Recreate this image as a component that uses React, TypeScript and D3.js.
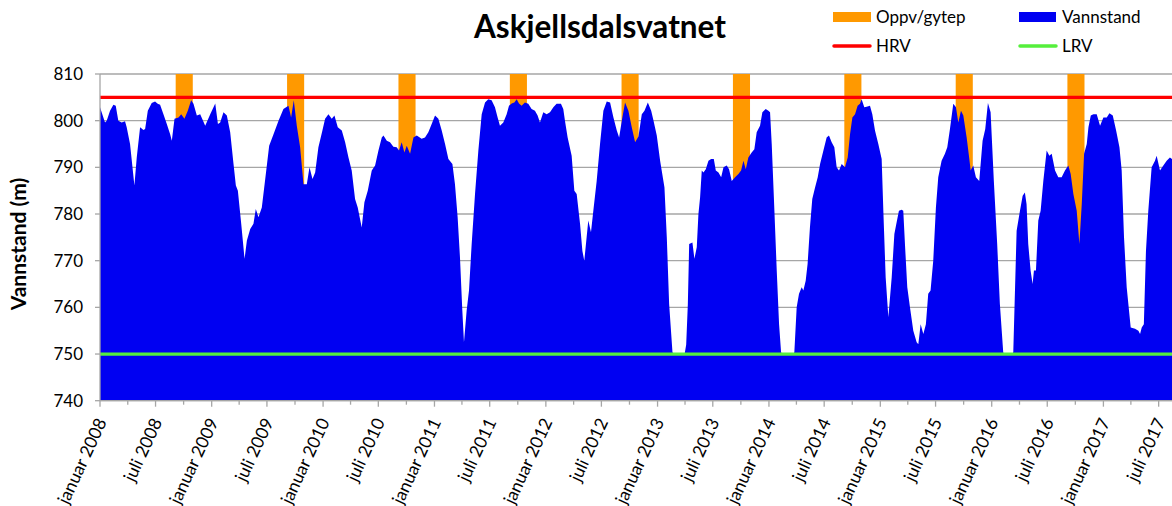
import React from "react";
import * as d3 from "d3";

// Time of each reading, in decimal years counted from 1 January 2008
const yearsSince2008 = [
  0.000, 0.045, 0.060, 0.090, 0.120, 0.141, 0.164, 0.194, 0.224, 0.239, 0.269, 0.308, 0.329, 0.359, 0.389, 0.404,
  0.428, 0.463, 0.493, 0.517, 0.538, 0.568, 0.598, 0.628, 0.643, 0.667, 0.703, 0.727, 0.756, 0.786, 0.816, 0.837,
  0.867, 0.897, 0.942, 0.987, 1.032, 1.056, 1.076, 1.106, 1.136, 1.166, 1.196, 1.217, 1.235, 1.265, 1.295, 1.316,
  1.346, 1.375, 1.396, 1.420, 1.450, 1.486, 1.516, 1.555, 1.600, 1.644, 1.689, 1.713, 1.737, 1.764, 1.794, 1.824,
  1.854, 1.878, 1.905, 1.929, 1.958, 1.994, 2.018, 2.048, 2.078, 2.102, 2.132, 2.168, 2.198, 2.228, 2.257, 2.287,
  2.311, 2.347, 2.371, 2.401, 2.437, 2.467, 2.497, 2.527, 2.542, 2.572, 2.601, 2.631, 2.661, 2.682, 2.706, 2.730,
  2.751, 2.781, 2.811, 2.841, 2.885, 2.915, 2.945, 2.975, 3.005, 3.035, 3.065, 3.095, 3.125, 3.161, 3.184, 3.208,
  3.229, 3.250, 3.265, 3.289, 3.310, 3.334, 3.364, 3.394, 3.424, 3.454, 3.483, 3.513, 3.543, 3.567, 3.588, 3.618,
  3.648, 3.669, 3.693, 3.717, 3.738, 3.759, 3.782, 3.812, 3.842, 3.872, 3.902, 3.926, 3.947, 3.977, 4.007, 4.037,
  4.067, 4.096, 4.135, 4.156, 4.171, 4.195, 4.231, 4.255, 4.276, 4.306, 4.327, 4.344, 4.365, 4.380, 4.404, 4.425,
  4.455, 4.485, 4.515, 4.545, 4.575, 4.605, 4.635, 4.656, 4.680, 4.709, 4.739, 4.769, 4.799, 4.829, 4.859, 4.883,
  4.913, 4.943, 4.964, 4.993, 5.023, 5.062, 5.083, 5.104, 5.134, 5.145, 5.243, 5.257, 5.272, 5.284, 5.313, 5.331,
  5.352, 5.367, 5.382, 5.397, 5.412, 5.433, 5.457, 5.481, 5.505, 5.523, 5.547, 5.571, 5.592, 5.621, 5.642, 5.666,
  5.696, 5.726, 5.750, 5.771, 5.792, 5.815, 5.845, 5.869, 5.890, 5.920, 5.941, 5.971, 5.995, 6.010, 6.025, 6.049,
  6.070, 6.091, 6.109, 6.118, 6.221, 6.228, 6.249, 6.270, 6.294, 6.309, 6.330, 6.347, 6.368, 6.389, 6.414, 6.438,
  6.459, 6.489, 6.518, 6.539, 6.563, 6.587, 6.608, 6.629, 6.653, 6.683, 6.707, 6.728, 6.749, 6.773, 6.796, 6.817,
  6.832, 6.856, 6.877, 6.907, 6.928, 6.952, 6.982, 7.012, 7.027, 7.048, 7.072, 7.102, 7.126, 7.146, 7.167, 7.191,
  7.206, 7.221, 7.242, 7.266, 7.296, 7.326, 7.341, 7.362, 7.386, 7.409, 7.430, 7.451, 7.475, 7.499, 7.520, 7.550,
  7.580, 7.601, 7.625, 7.655, 7.679, 7.700, 7.724, 7.745, 7.775, 7.799, 7.811, 7.834, 7.858, 7.888, 7.918, 7.942,
  7.966, 7.990, 8.019, 8.049, 8.073, 8.103, 8.109, 8.185, 8.193, 8.223, 8.253, 8.277, 8.297, 8.312, 8.327, 8.348,
  8.366, 8.378, 8.396, 8.417, 8.438, 8.462, 8.492, 8.516, 8.537, 8.567, 8.596, 8.626, 8.656, 8.686, 8.707, 8.731,
  8.761, 8.785, 8.806, 8.827, 8.851, 8.866, 8.887, 8.911, 8.940, 8.970, 9.000, 9.030, 9.054, 9.084, 9.114, 9.144,
  9.164, 9.185, 9.209, 9.245, 9.284, 9.314, 9.329, 9.344, 9.363, 9.382, 9.403, 9.433, 9.463, 9.478, 9.508, 9.538,
  9.568, 9.597, 9.616,
];

// Vannstand (m) at each time above
const vannstand = [
  802.9, 799.6, 800.0, 802.1, 803.4, 803.2, 800.0, 799.6, 799.9, 798.6, 795.0, 786.1, 792.1, 798.6, 798.0, 798.2,
  802.1, 803.8, 804.1, 803.6, 803.4, 801.4, 799.3, 797.1, 795.7, 800.4, 800.7, 801.4, 800.4, 802.1, 804.4, 803.6,
  801.1, 801.4, 798.9, 801.4, 803.7, 799.3, 799.6, 801.8, 801.1, 797.5, 790.7, 786.1, 785.0, 777.9, 770.4, 774.3,
  776.8, 777.9, 781.1, 779.3, 781.4, 788.6, 794.6, 797.1, 800.0, 802.5, 803.2, 800.7, 804.4, 798.9, 794.3, 786.4,
  786.4, 790.0, 787.5, 788.9, 794.3, 797.9, 800.4, 801.4, 800.4, 801.1, 798.6, 797.9, 795.4, 792.1, 789.3, 783.2,
  781.4, 777.1, 782.5, 785.0, 789.3, 790.4, 793.6, 796.4, 796.8, 795.7, 795.4, 794.4, 794.3, 793.6, 795.4, 793.2,
  794.6, 792.9, 796.4, 796.8, 796.1, 796.4, 797.5, 799.3, 801.1, 800.4, 797.9, 795.0, 791.8, 790.7, 786.4, 779.3,
  770.7, 759.3, 752.5, 759.3, 763.6, 773.6, 784.3, 793.6, 801.4, 803.9, 804.6, 804.4, 802.9, 800.7, 798.9, 799.6,
  801.4, 803.2, 803.7, 803.9, 804.6, 803.7, 803.2, 803.9, 803.6, 802.5, 802.1, 801.1, 799.6, 801.8, 801.4, 801.8,
  802.9, 803.6, 803.6, 802.5, 800.0, 796.4, 792.5, 785.0, 784.3, 777.9, 772.1, 770.0, 775.0, 778.6, 776.1, 780.7,
  787.1, 795.0, 802.1, 804.1, 803.9, 800.7, 797.9, 796.4, 800.0, 803.9, 802.1, 798.6, 795.4, 796.6, 801.4, 802.1,
  803.9, 802.1, 800.0, 796.8, 791.4, 785.7, 775.0, 760.7, 750.4, 750.0, 750.0, 752.0, 760.7, 773.6, 773.9, 770.4,
  772.9, 780.0, 783.6, 789.3, 788.9, 789.6, 791.4, 791.8, 791.8, 789.3, 788.9, 787.9, 790.0, 790.4, 789.6, 787.1,
  787.9, 788.6, 789.3, 791.4, 789.6, 792.1, 793.2, 793.9, 797.5, 798.9, 801.8, 802.5, 802.1, 801.8, 795.0, 780.7,
  767.9, 756.4, 750.4, 750.0, 750.0, 750.4, 760.0, 762.9, 764.3, 763.6, 765.7, 769.3, 777.1, 783.2, 785.7, 787.9,
  790.7, 793.6, 796.4, 796.8, 795.4, 794.3, 790.0, 789.3, 790.7, 790.0, 792.1, 797.1, 800.7, 801.4, 803.2, 803.6,
  804.6, 802.9, 803.0, 803.2, 801.4, 797.9, 795.0, 791.8, 780.7, 766.4, 757.9, 766.4, 775.7, 778.2, 780.7, 780.9,
  780.7, 773.6, 764.3, 760.0, 755.0, 752.5, 752.1, 756.4, 754.3, 756.4, 762.9, 763.6, 770.0, 781.4, 787.9, 791.4,
  792.9, 794.3, 798.2, 803.6, 802.9, 799.6, 802.1, 801.1, 796.4, 791.8, 789.3, 790.4, 787.9, 787.1, 795.7, 798.2,
  803.8, 801.8, 787.1, 773.6, 760.7, 750.4, 750.0, 750.0, 750.4, 776.4, 780.7, 783.9, 784.6, 782.1, 773.6, 767.9,
  765.0, 767.9, 767.9, 778.6, 780.7, 787.1, 793.6, 792.5, 792.9, 789.3, 787.9, 787.9, 789.3, 790.4, 788.6, 784.3,
  780.7, 773.6, 782.1, 792.9, 795.0, 798.6, 801.1, 801.4, 801.4, 798.9, 800.7, 800.7, 801.6, 801.1, 797.9, 794.3,
  789.3, 775.0, 764.3, 755.7, 755.4, 755.0, 754.3, 755.7, 756.4, 772.1, 780.7, 790.0, 791.4, 792.5, 789.3, 790.4,
  791.4, 792.1, 791.8,
];

// Oppvekst/gyteperiode (start, end)
const spawnPeriods = [
  ["2008-09-05", "2008-10-31"],
  ["2009-09-05", "2009-10-31"],
  ["2010-09-05", "2010-10-31"],
  ["2011-09-05", "2011-10-31"],
  ["2012-09-05", "2012-10-31"],
  ["2013-09-05", "2013-10-31"],
  ["2014-09-05", "2014-10-31"],
  ["2015-09-05", "2015-10-31"],
  ["2016-09-05", "2016-10-31"],
];

const HRV = 805;
const LRV = 750;
const yTicks = [740, 750, 760, 770, 780, 790, 800, 810];
const monthNames = ["januar", "februar", "mars", "april", "mai", "juni", "juli", "august", "september", "oktober", "november", "desember"];

const TITLE = "Askjellsdalsvatnet";
const Y_LABEL = "Vannstand (m)";

const C_BLUE = "#0000f2";
const C_ORANGE = "#ff9900";
const C_RED = "#ff0000";
const C_GREEN = "#55ef3c";
const C_GRID = "#a6a6a6";
const FONT = "Lato, 'Open Sans', sans-serif";

function decYearToDate(t: number): Date {
  const y = Math.floor(t);
  const s = new Date(y, 0, 1).getTime();
  const e = new Date(y + 1, 0, 1).getTime();
  return new Date(s + (t - y) * (e - s));
}

function parseDay(s: string): Date {
  const [y, m, d] = s.split("-").map(Number);
  return new Date(y, m - 1, d);
}

export default function App() {
  const W = 1172;
  const H = 506;
  const left = 100;
  const top = 74;
  const bottom = 400.7;
  const start = new Date(2008, 0, 1);
  const end = new Date(2018, 0, 1);

  const x = d3.scaleTime().domain([start, end]).range([left, left + 1114.8]);
  const y = d3.scaleLinear().domain([740, 810]).range([bottom, top]);

  const data = yearsSince2008.map((t, i) => ({ date: decYearToDate(2008 + t), v: vannstand[i] }));
  const area = d3
    .area<{ date: Date; v: number }>()
    .x((d) => x(d.date))
    .y0(y(740))
    .y1((d) => y(d.v));

  const majors = d3.timeMonth.every(6)!.range(start, end).filter((d) => x(d) <= W);
  const minors = d3
    .timeMonth.every(3)!
    .range(start, end)
    .filter((d) => d.getMonth() % 6 !== 0 && x(d) <= W);

  return (
    <div style={{ position: "absolute", left: 0, top: 0, width: W, height: H, background: "#fff" }}>
      <svg width={W} height={H} style={{ display: "block" }} fontFamily={FONT}>
        <rect x={0} y={0} width={W} height={H} fill="#fff" />
        {/* gridlines */}
        {yTicks.map((t) => (
          <line key={"g" + t} x1={left} x2={W} y1={y(t)} y2={y(t)} stroke={C_GRID} strokeWidth={1.3} />
        ))}
        {/* spawning periods */}
        {spawnPeriods.map(([a, b]) => {
          const x0 = x(parseDay(a));
          const x1 = x(parseDay(b));
          return <rect key={a} x={x0} y={y(810)} width={x1 - x0} height={y(740) - y(810)} fill={C_ORANGE} />;
        })}
        {/* water level */}
        <path d={area(data) || ""} fill={C_BLUE} />
        {/* HRV / LRV */}
        <line x1={left} x2={W} y1={y(HRV)} y2={y(HRV)} stroke={C_RED} strokeWidth={3.3} />
        <line x1={left} x2={W} y1={y(LRV)} y2={y(LRV)} stroke={C_GREEN} strokeWidth={3.3} />
        {/* y axis */}
        <line x1={left} x2={left} y1={top} y2={bottom} stroke={C_GRID} strokeWidth={1.3} />
        {yTicks.map((t) => (
          <g key={"yt" + t}>
            <line x1={left - 5} x2={left} y1={y(t)} y2={y(t)} stroke={C_GRID} strokeWidth={1.3} />
            <text x={83} y={y(t)} dy="0.36em" textAnchor="end" fontSize={17} fill="#000">
              {t}
            </text>
          </g>
        ))}
        <text
          transform={`translate(26,244) rotate(-90)`}
          textAnchor="middle"
          fontSize={21}
          fontWeight="bold"
          fill="#000"
        >
          {Y_LABEL}
        </text>
        {/* x axis */}
        <line x1={left} x2={W} y1={bottom} y2={bottom} stroke={C_GRID} strokeWidth={1.3} />
        {majors.map((d) => (
          <line key={"mj" + d.getTime()} x1={x(d)} x2={x(d)} y1={bottom} y2={bottom + 6} stroke={C_GRID} strokeWidth={1.3} />
        ))}
        {minors.map((d) => (
          <line key={"mn" + d.getTime()} x1={x(d)} x2={x(d)} y1={bottom} y2={bottom + 4} stroke={C_GRID} strokeWidth={1.3} />
        ))}
        {majors.map((d) => (
          <text
            key={"xl" + d.getTime()}
            transform={`translate(${x(d) + 1.5},${bottom + 18.5}) rotate(-65)`}
            textAnchor="end"
            dy="0.35em"
            fontSize={17.5}
            fill="#000"
          >
            {`${monthNames[d.getMonth()]} ${d.getFullYear()}`}
          </text>
        ))}
        {/* title */}
        <text x={600} y={38} textAnchor="middle" fontSize={31.5} fontWeight="bold" fill="#000">
          {TITLE}
        </text>
        {/* legend */}
        <rect x={833} y={12} width={38} height={10} fill={C_ORANGE} />
        <text x={876} y={23} fontSize={17} fill="#000">Oppv/gytep</text>
        <rect x={1019} y={12} width={37} height={10} fill={C_BLUE} />
        <text x={1062} y={23} fontSize={17} fill="#000">Vannstand</text>
        <line x1={834} x2={870} y1={46} y2={46} stroke={C_RED} strokeWidth={3.5} strokeLinecap="round" />
        <text x={876} y={52} fontSize={17} fill="#000">HRV</text>
        <line x1={1020} x2={1056} y1={46} y2={46} stroke={C_GREEN} strokeWidth={3.5} strokeLinecap="round" />
        <text x={1062} y={52} fontSize={17} fill="#000">LRV</text>
      </svg>
    </div>
  );
}
